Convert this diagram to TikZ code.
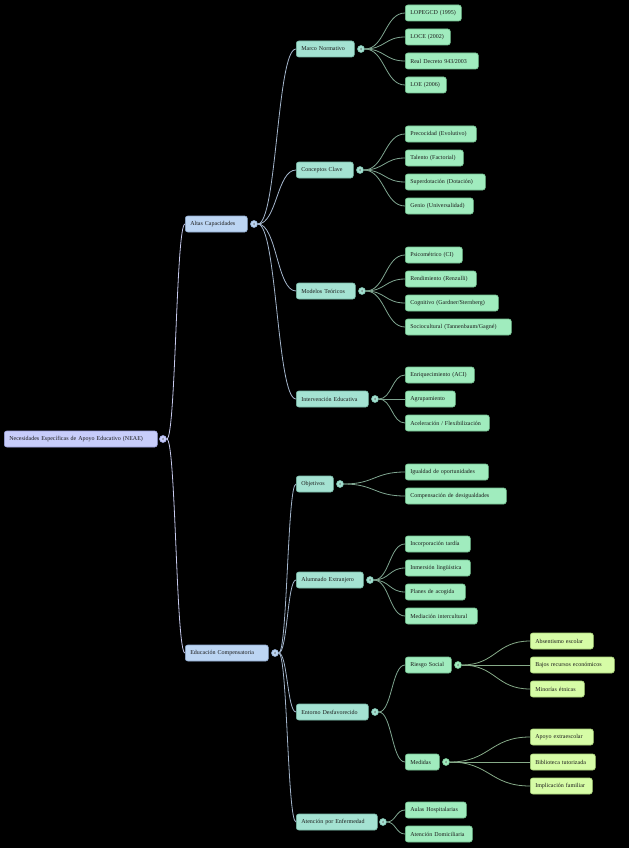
\documentclass[tikz,border=0pt]{standalone}
\usepackage{fontspec}
\setmainfont{Liberation Serif}
\usepackage{xcolor}
\usepackage{tikz}
\usetikzlibrary{calc}
\definecolor{rootfill}{HTML}{C8CDFA}
\definecolor{rootline}{HTML}{9CA2DC}
\definecolor{afill}{HTML}{BCD5F3}
\definecolor{aline}{HTML}{8EA8CC}
\definecolor{bfill}{HTML}{A4E2D2}
\definecolor{bline}{HTML}{78B8A6}
\definecolor{cfill}{HTML}{A0ECBE}
\definecolor{cline}{HTML}{72BE8E}
\definecolor{dfill}{HTML}{D6FCA6}
\definecolor{dline}{HTML}{A8D078}
\definecolor{ink}{HTML}{1C1C1C}
\definecolor{wireR}{HTML}{C6C9EC}
\definecolor{wireA}{HTML}{A4B6CC}
\definecolor{wireB}{HTML}{7FA590}
\definecolor{wireC}{HTML}{86AA88}
\tikzset{
  mm/.style={rectangle, rounded corners=2.5pt, anchor=west, align=left,
             minimum height=16pt, inner xsep=5pt, inner ysep=2pt,
             font=\fontsize{6}{7}\selectfont, text=ink, line width=.6pt},
  root/.style={mm, fill=rootfill, draw=rootline},
  lvA/.style={mm, fill=afill, draw=aline},
  lvB/.style={mm, fill=bfill, draw=bline},
  lvC/.style={mm, fill=cfill, draw=cline},
  lvD/.style={mm, fill=dfill, draw=dline},
  dot/.style={circle, inner sep=0pt, minimum size=7pt, line width=.6pt,
              path picture={\draw[ink!70, line width=.35pt]
                ([xshift=.8pt, yshift=1.1pt]path picture bounding box.center)
                -- ++(-1.4pt,-1.1pt) -- ++(1.4pt,-1.1pt);}},
  edgeR/.style={draw=wireR, line width=.8pt},
  edgeA/.style={draw=wireA, line width=.8pt},
  edgeB/.style={draw=wireB, line width=.8pt},
  edgeC/.style={draw=wireC, line width=.8pt},
}
% curved branch from a toggle dot to the west side of a child
\newcommand\branch[3]{%
  \draw[#3] let \p1=(#1.east), \p2=(#2.west) in
    (\p1) .. controls ({(\x1+\x2)/2},\y1) and ({(\x1+\x2)/2},\y2) .. (\p2);}

\begin{document}
\begin{tikzpicture}[x=1pt, y=-1pt]
  \fill[black] (0,0) rectangle (629,848);
  \useasboundingbox (0,0) rectangle (629,848);

  % root
  \node[root, text width=143pt] (neae) at (4,439) {Necesidades Específicas de Apoyo Educativo (NEAE)};
  \node[dot, fill=rootfill, draw=rootline] (neaeT) at (163,439) {};

  % level 1
  \node[lvA, text width=52pt] (altas) at (185,224) {Altas Capacidades};
  \node[dot, fill=afill, draw=aline] (altasT) at (254,224) {};
  \node[lvA, text width=73pt] (comp) at (185,653) {Educación Compensatoria};
  \node[dot, fill=afill, draw=aline] (compT) at (275,653) {};

  % level 2
  \node[lvB, text width=48pt] (marco) at (296,49) {Marco Normativo};
  \node[dot, fill=bfill, draw=bline] (marcoT) at (361,49) {};
  \node[lvB, text width=47pt] (conc) at (296,170) {Conceptos Clave};
  \node[dot, fill=bfill, draw=bline] (concT) at (360,170) {};
  \node[lvB, text width=49pt] (mod) at (296,291) {Modelos Teóricos};
  \node[dot, fill=bfill, draw=bline] (modT) at (362,291) {};
  \node[lvB, text width=62pt] (interv) at (296,399) {Intervención Educativa};
  \node[dot, fill=bfill, draw=bline] (intervT) at (375,399) {};
  \node[lvB, text width=27pt] (obj) at (296,484) {Objetivos};
  \node[dot, fill=bfill, draw=bline] (objT) at (340,484) {};
  \node[lvB, text width=57pt] (alum) at (296,580) {Alumnado Extranjero};
  \node[dot, fill=bfill, draw=bline] (alumT) at (370,580) {};
  \node[lvB, text width=62pt] (ent) at (296,712) {Entorno Desfavorecido};
  \node[dot, fill=bfill, draw=bline] (entT) at (375,712) {};
  \node[lvB, text width=71pt] (enf) at (296,822) {Atención por Enfermedad};
  \node[dot, fill=bfill, draw=bline] (enfT) at (383,822) {};

  % level 3
  \node[lvC, text width=46pt] (lopegcd) at (405,13) {LOPEGCD (1995)};
  \node[lvC, text width=35pt] (loce) at (405,37) {LOCE (2002)};
  \node[lvC, text width=63pt] (rd) at (405,61) {Real Decreto 943/2003};
  \node[lvC, text width=31pt] (loe) at (405,85) {LOE (2006)};
  \node[lvC, text width=61pt] (preco) at (405,134) {Precocidad (Evolutivo)};
  \node[lvC, text width=48pt] (tal) at (405,158) {Talento (Factorial)};
  \node[lvC, text width=70pt] (super) at (405,182) {Superdotación (Dotación)};
  \node[lvC, text width=58pt] (genio) at (405,206) {Genio (Universalidad)};
  \node[lvC, text width=47pt] (psico) at (405,255) {Psicométrico (CI)};
  \node[lvC, text width=61pt] (rend) at (405,279) {Rendimiento (Renzulli)};
  \node[lvC, text width=83pt] (cogn) at (405,303) {Cognitivo (Gardner/Sternberg)};
  \node[lvC, text width=96pt] (socio) at (405,327) {Sociocultural (Tannenbaum/Gagné)};
  \node[lvC, text width=59pt] (enriq) at (405,375) {Enriquecimiento (ACI)};
  \node[lvC, text width=40pt] (agrup) at (405,399) {Agrupamiento};
  \node[lvC, text width=74pt] (acel) at (405,423) {Aceleración / Flexibilización};
  \node[lvC, text width=73pt] (igual) at (405,472) {Igualdad de oportunidades};
  \node[lvC, text width=91pt] (compd) at (405,496) {Compensación de desigualdades};
  \node[lvC, text width=55pt] (incorp) at (405,544) {Incorporación tardía};
  \node[lvC, text width=55pt] (inmer) at (405,568) {Inmersión lingüística};
  \node[lvC, text width=50pt] (planes) at (405,592) {Planes de acogida};
  \node[lvC, text width=62pt] (medint) at (405,616) {Mediación intercultural};
  \node[lvC, text width=36pt] (riesgo) at (405,665) {Riesgo Social};
  \node[dot, fill=cfill, draw=cline] (riesgoT) at (458,665) {};
  \node[lvC, text width=24pt] (medidas) at (405,762) {Medidas};
  \node[dot, fill=cfill, draw=cline] (medidasT) at (446,762) {};
  \node[lvC, text width=51pt] (aulas) at (405,810) {Aulas Hospitalarias};
  \node[lvC, text width=57pt] (domic) at (405,834) {Atención Domiciliaria};

  % level 4
  \node[lvD, text width=53pt] (absent) at (530,641) {Absentismo escolar};
  \node[lvD, text width=74pt] (bajos) at (530,665) {Bajos recursos económicos};
  \node[lvD, text width=44pt] (minor) at (530,689) {Minorías étnicas};
  \node[lvD, text width=53pt] (apoyo) at (530,737) {Apoyo extraescolar};
  \node[lvD, text width=55pt] (biblio) at (530,762) {Biblioteca tutorizada};
  \node[lvD, text width=52pt] (implic) at (530,786) {Implicación familiar};

  % branches
  \branch{neaeT}{altas}{edgeR}
  \branch{neaeT}{comp}{edgeR}
  \foreach \c in {marco, conc, mod, interv} {\branch{altasT}{\c}{edgeA}}
  \foreach \c in {obj, alum, ent, enf} {\branch{compT}{\c}{edgeA}}
  \foreach \c in {lopegcd, loce, rd, loe} {\branch{marcoT}{\c}{edgeB}}
  \foreach \c in {preco, tal, super, genio} {\branch{concT}{\c}{edgeB}}
  \foreach \c in {psico, rend, cogn, socio} {\branch{modT}{\c}{edgeB}}
  \foreach \c in {enriq, agrup, acel} {\branch{intervT}{\c}{edgeB}}
  \foreach \c in {igual, compd} {\branch{objT}{\c}{edgeB}}
  \foreach \c in {incorp, inmer, planes, medint} {\branch{alumT}{\c}{edgeB}}
  \foreach \c in {riesgo, medidas} {\branch{entT}{\c}{edgeB}}
  \foreach \c in {aulas, domic} {\branch{enfT}{\c}{edgeB}}
  \foreach \c in {absent, bajos, minor} {\branch{riesgoT}{\c}{edgeC}}
  \foreach \c in {apoyo, biblio, implic} {\branch{medidasT}{\c}{edgeC}}
\end{tikzpicture}
\end{document}
